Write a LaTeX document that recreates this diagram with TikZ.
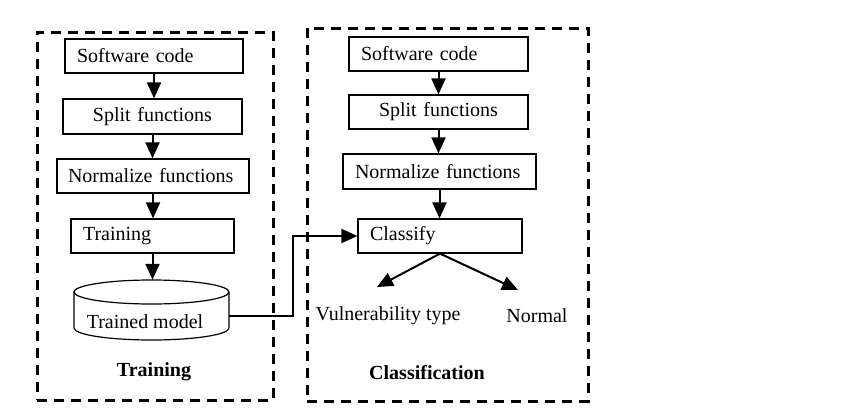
\documentclass[tikz,border=0pt]{standalone}
\usepackage{fontspec}
\setmainfont{Liberation Serif}
\usetikzlibrary{arrows.meta,calc}
\begin{document}
\begin{tikzpicture}[x=1pt,y=-1pt,
  every node/.style={font=\fontsize{20}{24}\selectfont},
  box/.style={draw=black,line width=1.2pt,inner xsep=0pt,inner ysep=0pt,align=left},
  frame/.style={draw=black,line width=3pt,dash pattern=on 10pt off 7pt,inner sep=0pt},
  conn/.style={line width=2pt,-{Triangle[length=16pt,width=14pt]}},
  title/.style={font=\fontsize{20}{24}\selectfont\bfseries}]
\useasboundingbox (0,0) rectangle (863,418);
% frames
\node[frame,minimum width=236pt,minimum height=368pt] (ftrain) at (155,216) {};
\node[frame,minimum width=281pt,minimum height=373pt] (fclass) at (447.5,214.5) {};
% left column
\node[box,minimum width=178pt,minimum height=34pt,text width=178pt] (lsw) at (154,56) {\hspace*{12pt}Software code};
\node[box,minimum width=179pt,minimum height=35pt,text width=179pt] (lsp) at (152.5,116.5) {\hspace*{30pt}Split functions};
\node[box,minimum width=192pt,minimum height=34pt,text width=192pt] (lno) at (153,176) {\hspace*{11pt}Normalize functions};
\node[box,minimum width=163pt,minimum height=34pt,text width=163pt] (ltr) at (152.5,236) {\hspace*{12pt}Training};
% cylinder
\node[minimum width=155pt,minimum height=60pt,inner sep=0pt] (cyl) at (151.5,310) {};
\draw[line width=1.2pt] (74,292) -- (74,328) arc[start angle=180,end angle=360,x radius=77.5pt,y radius=12pt] -- (229,292);
\draw[line width=1.2pt] (151.5,292) ellipse[x radius=77.5pt,y radius=12pt];
\node (cyltxt) at (145,322) {Trained model};
\node[title] (ttrain) at (154,372) {Training};
% right column
\node[box,minimum width=179pt,minimum height=34pt,text width=179pt] (rsw) at (438.5,54) {\hspace*{12pt}Software code};
\node[box,minimum width=179pt,minimum height=34pt,text width=179pt] (rsp) at (438.5,112) {\hspace*{30pt}Split functions};
\node[box,minimum width=193pt,minimum height=35pt,text width=193pt] (rno) at (439.5,171.5) {\hspace*{12pt}Normalize functions};
\node[box,minimum width=164pt,minimum height=34pt,text width=164pt] (cls) at (440,236) {\hspace*{12pt}Classify};
\node (vul) at (388,316) {Vulnerability type};
\node (nor) at (537,316) {Normal};
\node[title] (tclass) at (427,373) {Classification};
% connectors
\draw[conn] (lsw.south) -- (lsw.south |- lsp.north);
\draw[conn] (lsp.south) -- (lsp.south |- lno.north);
\draw[conn] (lno.south) -- (lno.south |- ltr.north);
\draw[conn] (ltr.south) -- (ltr.south |- cyl.north);
\draw[conn] (rsw.south) -- (rsw.south |- rsp.north);
\draw[conn] (rsp.south) -- (rsp.south |- rno.north);
\draw[conn] (rno.south) -- (rno.south |- cls.north);
\coordinate (m1) at (229,316);
\draw[conn] (m1) -- ++(64,0) |- (cls.west);
\coordinate (bv) at (377,287);
\coordinate (bn) at (518,290);
\draw[conn] (cls.south) -- (bv);
\draw[conn] (cls.south) -- (bn);
\end{tikzpicture}
\end{document}
